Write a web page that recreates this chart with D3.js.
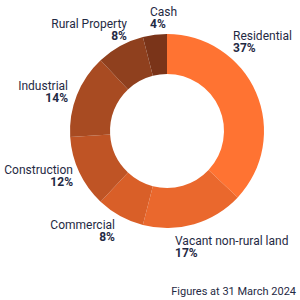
<!DOCTYPE html>
<html>
<head>
<meta charset="utf-8">
<script src="https://cdn.jsdelivr.net/npm/d3@7"></script>
<style>
  html, body { margin: 0; padding: 0; background: #fff; }
  svg text { font-family: Roboto, "Noto Sans", sans-serif; fill: #1f2a44; }
</style>
</head>
<body>
<svg id="chart" width="300" height="300"></svg>
<script>
const categories = ["Residential", "Vacant non-rural land", "Commercial", "Construction", "Industrial", "Rural Property", "Cash"];
const values = [37, 17, 8, 12, 14, 8, 4];
const footnote = "Figures at 31 March 2024";

const colors = ["#ff7332", "#ea682d", "#d95f28", "#bf5425", "#a84b22", "#8f401e", "#7a3419"];
// label layout: [x, baseline y, anchor]
const labelLayout = [
  [233, 40, "start"],
  [175, 245, "start"],
  [115, 229, "end"],
  [73, 174, "end"],
  [68, 90, "end"],
  [127, 28, "end"],
  [150, 16, "start"]
];

const svg = d3.select("#chart");
const cx = 167, cy = 131, rOuter = 97, rInner = 57;

const data = categories.map((c, i) => ({ name: c, value: values[i], i }));
const pie = d3.pie().value(d => d.value).sort(null);
const arc = d3.arc().innerRadius(rInner).outerRadius(rOuter);

const g = svg.append("g").attr("transform", `translate(${cx},${cy})`);
g.selectAll("path").data(pie(data)).join("path")
  .attr("d", arc)
  .attr("fill", d => colors[d.data.i]);

const labels = svg.append("g").selectAll("text").data(data).join("text")
  .attr("text-anchor", d => labelLayout[d.i][2])
  .attr("font-size", 12);
labels.append("tspan")
  .attr("x", d => labelLayout[d.i][0])
  .attr("y", d => labelLayout[d.i][1])
  .text(d => d.name);
labels.append("tspan")
  .attr("x", d => labelLayout[d.i][0])
  .attr("y", d => labelLayout[d.i][1] + 12)
  .attr("font-weight", 700)
  .text(d => d.value + "%");

svg.append("text")
  .attr("x", 296).attr("y", 295)
  .attr("text-anchor", "end")
  .attr("font-size", 11)
  .text(footnote);
</script>
</body>
</html>
